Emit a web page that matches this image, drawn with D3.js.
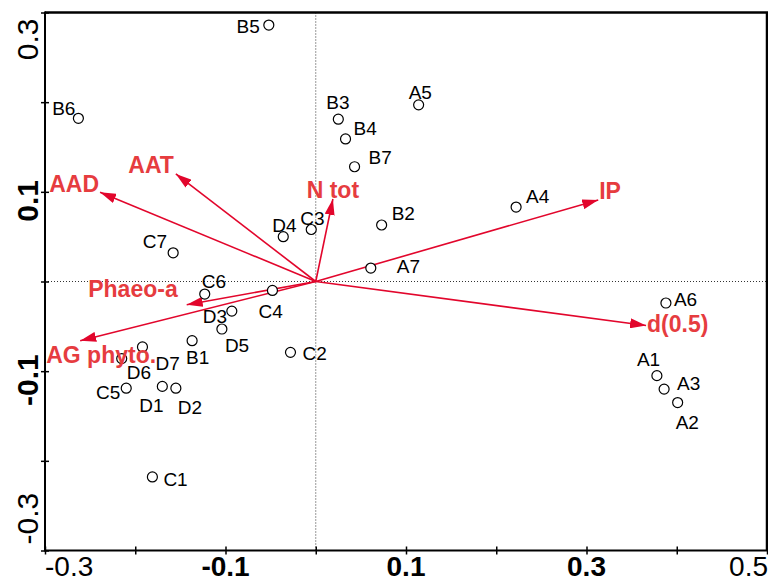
<!DOCTYPE html>
<html><head><meta charset="utf-8">
<script src="https://cdn.jsdelivr.net/npm/d3@7"></script>
<style>body{margin:0;background:#fff}text{font-family:Arial,"Liberation Sans",sans-serif}</style>
</head><body>
<svg id="c" width="768" height="582"></svg>
<script>
// ---- data ----
const sampleNames = ["B5","A5","B3","B4","B7","B6","A4","B2","D4","C3","C7","A7","C6","C4","D3","D5","B1","C2","D7","D6","C5","D1","D2","C1","A6","A1","A3","A2"];
const sampleX = [-0.052,0.114,0.025,0.033,0.043,-0.263,0.222,0.073,-0.036,-0.005,-0.158,0.061,-0.123,-0.048,-0.093,-0.104,-0.137,-0.028,-0.192,-0.215,-0.210,-0.170,-0.155,-0.181,0.388,0.378,0.386,0.401];
const sampleY = [0.286,0.197,0.181,0.159,0.128,0.182,0.083,0.063,0.050,0.058,0.032,0.015,-0.014,-0.010,-0.033,-0.053,-0.066,-0.079,-0.073,-0.086,-0.119,-0.117,-0.119,-0.218,-0.024,-0.105,-0.120,-0.135];
const varNames = ["AAD","AAT","N tot","IP","d(0.5)","Phaeo-a","AG phyto."];
const varX = [-0.239,-0.155,0.019,0.313,0.366,-0.143,-0.261];
const varY = [0.0996,0.120,0.092,0.091,-0.049,-0.026,-0.066];
const xTickValues = [-0.3,-0.2,-0.1,0,0.1,0.2,0.3,0.4,0.5];
const yTickValues = [-0.3,-0.2,-0.1,0,0.1,0.2,0.3];
const xTickLabels = ["-0.3","-0.1","0.1","0.3","0.5"];
const yTickLabels = ["-0.3","-0.1","0.1","0.3"];

// ---- layout (label placement only) ----
const sampleLabelPos = {
  B5:[-9,8,"end"], A5:[-10,-6,"start"], B3:[-12,-10,"start"], B4:[8,-4,"start"], B7:[14,-3,"start"],
  B6:[-3,-3,"end"], A4:[10,-4,"start"], B2:[10,-5,"start"], D4:[-11,-5,"start"], C3:[-11,-4,"start"],
  C7:[-6,-5,"end"], A7:[26,5,"start"], C6:[-3,-6,"start"], C4:[-14,28,"start"], D3:[-29,12,"start"],
  D5:[3,23,"start"], B1:[-6,23,"start"], C2:[12,8,"start"], D7:[13,23,"start"], D6:[5,20,"start"],
  C5:[-6,11,"end"], D1:[-23,26,"start"], D2:[2,26,"start"], C1:[11,9,"start"], A6:[8,3,"start"],
  A1:[-20,-10,"start"], A3:[13,1,"start"], A2:[-2,26,"start"]
};
const varLabelPos = {
  "AAD":[-1,0,"end"], "AAT":[-2,-1,"end"], "N tot":[0,-1,"middle"], "IP":[1,-1,"start"],
  "d(0.5)":[1,7,"start"], "Phaeo-a":[-9,-8,"end"], "AG phyto.":[-34,22,"start"]
};
const boldX = {"-0.3":false,"-0.1":true,"0.1":true,"0.3":true,"0.5":false};
const boldY = {"-0.3":false,"-0.1":true,"0.1":true,"0.3":false};

const svg = d3.select("#c");
const x = d3.scaleLinear().domain([-0.3,0.5]).range([45,767]);
const y = d3.scaleLinear().domain([-0.3,0.3]).range([550.5,12.5]);
const lineRed = "#e2062c", textRed = "#e63c3f";

// dotted zero lines
svg.append("line").attr("x1",x(0)).attr("x2",x(0)).attr("y1",y(0.3)).attr("y2",y(-0.3))
  .attr("stroke","#333").attr("stroke-width",1).attr("stroke-dasharray","1,2");
svg.append("line").attr("x1",x(-0.3)).attr("x2",x(0.5)).attr("y1",y(0)).attr("y2",y(0))
  .attr("stroke","#333").attr("stroke-width",1).attr("stroke-dasharray","1,2");

// frame
svg.append("line").attr("x1",x(-0.3)).attr("x2",x(0.5)+1).attr("y1",y(0.3)).attr("y2",y(0.3)).attr("stroke","#000").attr("stroke-width",2.5);
svg.append("line").attr("x1",x(0.5)).attr("x2",x(0.5)).attr("y1",y(0.3)).attr("y2",y(-0.3)).attr("stroke","#000").attr("stroke-width",2.5);

// axes with ticks crossing the line
const xAxis = d3.axisBottom(x).tickValues(xTickValues).tickSize(8).tickSizeOuter(0).tickFormat("");
const gx = svg.append("g").attr("transform",`translate(0,${y(-0.3)-4})`).call(xAxis);
gx.select(".domain").remove();
gx.selectAll(".tick line").attr("stroke","#000").attr("stroke-width",1.5);
svg.append("line").attr("x1",x(-0.3)).attr("x2",x(0.5)).attr("y1",y(-0.3)).attr("y2",y(-0.3)).attr("stroke","#000").attr("stroke-width",2);

const yAxis = d3.axisLeft(y).tickValues(yTickValues).tickSize(8).tickSizeOuter(0).tickFormat("");
const gy = svg.append("g").attr("transform",`translate(${x(-0.3)+4},0)`).call(yAxis);
gy.select(".domain").remove();
gy.selectAll(".tick line").attr("stroke","#000").attr("stroke-width",1.5);
svg.append("line").attr("x1",x(-0.3)).attr("x2",x(-0.3)).attr("y1",y(0.3)-1).attr("y2",y(-0.3)+1).attr("stroke","#000").attr("stroke-width",2);

// tick labels
xTickLabels.forEach(t=>{
  const v=+t; let anchor="middle", px=x(v);
  if (v===-0.3){anchor="start"; px=x(v);} 
  if (v===0.5){anchor="end"; px=x(v)+1;}
  svg.append("text").attr("x",px).attr("y",576)
    .attr("text-anchor",anchor).attr("font-size",28).attr("font-weight",boldX[t]?"bold":"normal")
    .attr("fill","#000").text(t);
});
yTickLabels.forEach(t=>{
  const v=+t; let anchor="middle", py=y(v)+9;
  if (v===0.3){anchor="end"; py=y(v)+6;}
  if (v===-0.3){anchor="start"; py=y(v)-6;}
  svg.append("text").attr("transform",`translate(38,${py}) rotate(-90)`)
    .attr("text-anchor",anchor).attr("font-size",30).attr("font-weight",boldY[t]?"bold":"normal")
    .attr("fill","#000").text(t);
});

// arrow marker
svg.append("defs").append("marker").attr("id","ah")
  .attr("markerUnits","userSpaceOnUse").attr("viewBox","0 0 16 10")
  .attr("markerWidth",16).attr("markerHeight",10).attr("refX",16).attr("refY",5).attr("orient","auto")
  .append("path").attr("d","M0,0 L16,5 L0,10 Z").attr("fill",lineRed);

// biplot arrows
varNames.forEach((n,i)=>{
  svg.append("line").attr("x1",x(0)).attr("y1",y(0)).attr("x2",x(varX[i])).attr("y2",y(varY[i]))
    .attr("stroke",lineRed).attr("stroke-width",1.6).attr("marker-end","url(#ah)");
});

// sample points
sampleNames.forEach((n,i)=>{
  svg.append("circle").attr("cx",x(sampleX[i])).attr("cy",y(sampleY[i])).attr("r",5)
    .attr("fill","#fff").attr("stroke","#000").attr("stroke-width",1.2);
});
sampleNames.forEach((n,i)=>{
  const p=sampleLabelPos[n];
  svg.append("text").attr("x",x(sampleX[i])+p[0]).attr("y",y(sampleY[i])+p[1])
    .attr("text-anchor",p[2]).attr("font-size",19).attr("fill","#000").text(n);
});

// variable labels
varNames.forEach((n,i)=>{
  const p=varLabelPos[n];
  svg.append("text").attr("x",x(varX[i])+p[0]).attr("y",y(varY[i])+p[1])
    .attr("text-anchor",p[2]).attr("font-size",23).attr("font-weight","bold").attr("fill",textRed).text(n);
});
</script>
</body></html>
